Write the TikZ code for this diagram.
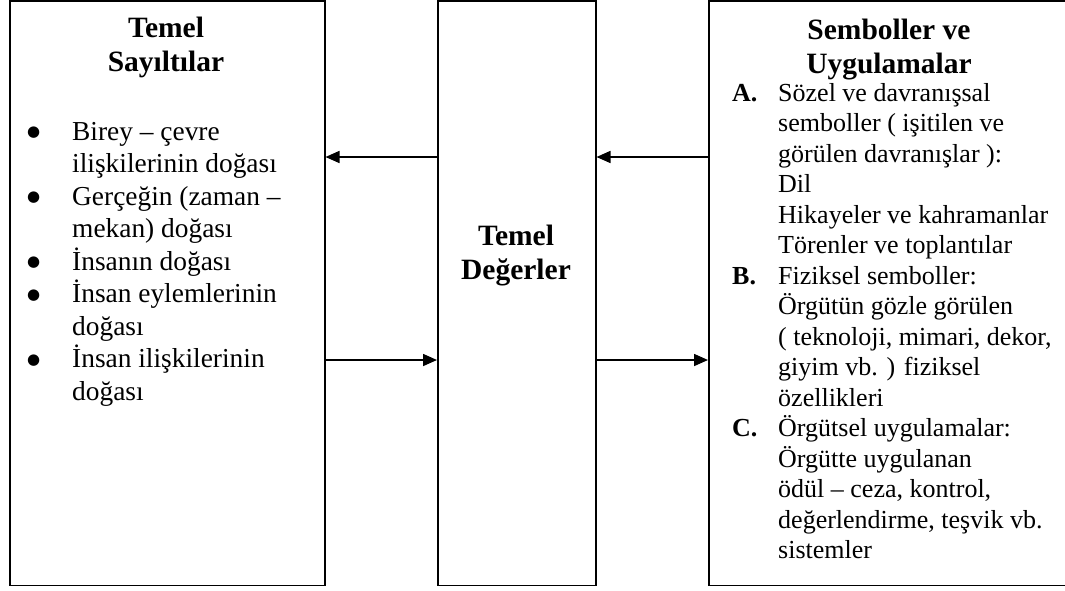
\documentclass[tikz,border=0pt]{standalone}
\usepackage{fontspec}
\setmainfont{Liberation Serif}
\newfontfamily\dotfont{DejaVu Sans}
\usetikzlibrary{arrows.meta}
% list markers: a round bullet and a bold letter
\newcommand\bulletcell{\makebox[45pt][l]{\raisebox{3.5pt}{\dotfont\fontsize{15}{15}\selectfont ●}}}
\newcommand\lettercell[1]{\makebox[46pt][l]{\bfseries #1}}
\begin{document}
\begin{tikzpicture}[x=1pt,y=-1pt,
  panel/.style={draw=black, line width=1.5pt, inner sep=0pt, anchor=north west},
  head/.style={inner sep=0pt, anchor=base,
    font=\fontsize{29.5}{34}\selectfont\bfseries},
  listtext/.style={inner sep=0pt, anchor=base west},
  flow/.style={line width=1.6pt, -{Triangle[length=14pt,width=12pt]}}]
\useasboundingbox (0,0) rectangle (1065,590);

% the three panels
\node[panel, minimum width=315pt, minimum height=584.5pt] (left) at (9,0.4) {};
\node[panel, minimum width=158pt, minimum height=584.5pt] (mid) at (437,0.4) {};
\node[panel, minimum width=365pt, minimum height=584.5pt] (right) at (708,0.4) {};

% headings
\node[head] (lefthead) at (166,37)
  {\begin{tabular}[t]{@{}c@{}}Temel\\Sayıltılar\end{tabular}};
\node[head] (midhead) at (516,245)
  {\begin{tabular}[t]{@{}c@{}}Temel\\Değerler\end{tabular}};
\node[head] (righthead) at (889,39)
  {\begin{tabular}[t]{@{}c@{}}Semboller ve\\Uygulamalar\end{tabular}};

% basic assumptions
\node[listtext, font=\fontsize{27.4}{32.5}\selectfont] (leftlist) at (27,140)
  {\begin{tabular}[t]{@{}l@{}l@{}}
   \bulletcell & Birey – çevre\\
               & ilişkilerinin doğası\\
   \bulletcell & Gerçeğin (zaman –\\
               & mekan) doğası\\
   \bulletcell & İnsanın doğası\\
   \bulletcell & İnsan eylemlerinin\\
               & doğası\\
   \bulletcell & İnsan ilişkilerinin\\
               & doğası
  \end{tabular}};

% symbols and practices
\node[listtext, font=\fontsize{26}{30.5}\selectfont] (rightlist) at (732,101)
  {\begin{tabular}[t]{@{}l@{}l@{}}
   \lettercell{A.} & Sözel ve davranışsal\\
                   & semboller ( işitilen ve\\
                   & görülen davranışlar ):\\
                   & Dil\\
                   & Hikayeler ve kahramanlar\\
                   & Törenler ve toplantılar\\
   \lettercell{B.} & Fiziksel semboller:\\
                   & Örgütün gözle görülen\\
                   & ( teknoloji, mimari, dekor,\\
                   & giyim vb. ) fiziksel\\
                   & özellikleri\\
   \lettercell{C.} & Örgütsel uygulamalar:\\
                   & Örgütte uygulanan\\
                   & ödül – ceza, kontrol,\\
                   & değerlendirme, teşvik vb.\\
                   & sistemler
  \end{tabular}};

% connectors
\coordinate (upper) at (0,157);
\coordinate (lower) at (0,360);
\draw[flow] (mid.west |- upper) -- (left.east |- upper);
\draw[flow] (right.west |- upper) -- (mid.east |- upper);
\draw[flow] (left.east |- lower) -- (mid.west |- lower);
\draw[flow] (mid.east |- lower) -- (right.west |- lower);
\end{tikzpicture}
\end{document}
